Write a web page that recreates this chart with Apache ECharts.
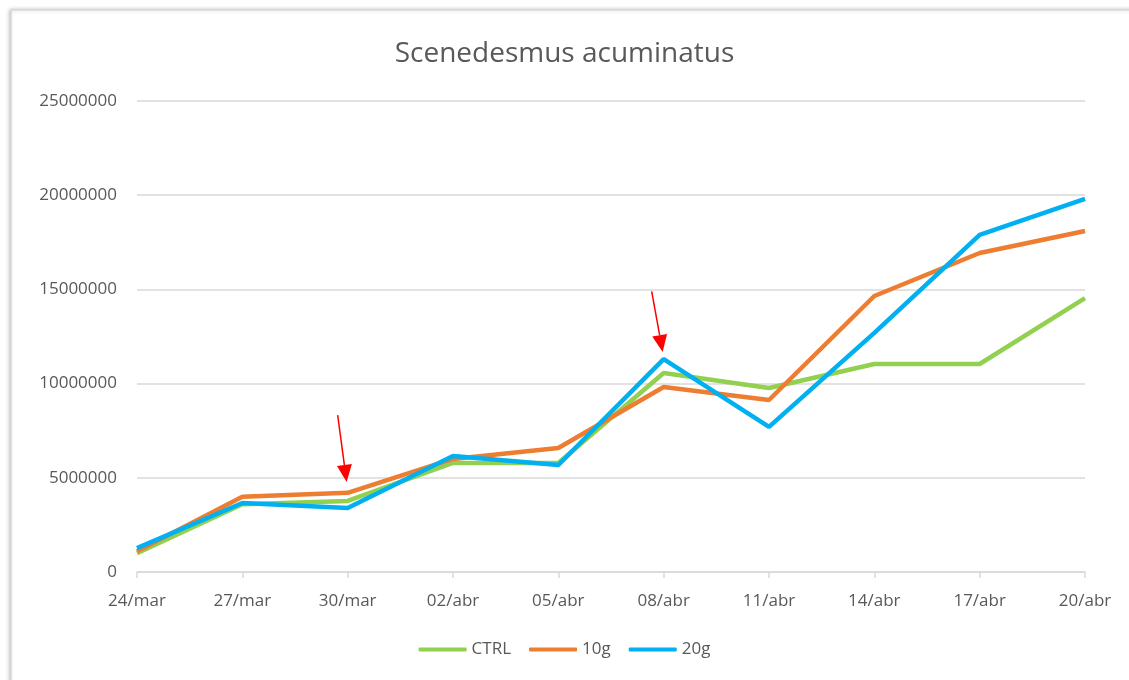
<!DOCTYPE html>
<html>
<head>
<meta charset="utf-8">
<script src="https://cdn.jsdelivr.net/npm/echarts@6/dist/echarts.min.js"></script>
<style>
  html, body { margin: 0; padding: 0; background: #fff; }
  #main { width: 1129px; height: 680px; }
</style>
</head>
<body>
<div id="main"></div>
<script>
// fechas de muestreo
var dates = ['24/mar', '27/mar', '30/mar', '02/abr', '05/abr', '08/abr', '11/abr', '14/abr', '17/abr', '20/abr'];

// células/mL
var ctrl = [1000000, 3600000, 3770000, 5790000, 5790000, 10560000, 9770000, 11040000, 11040000, 14540000];
var g10  = [1100000, 4000000, 4200000, 6000000, 6580000, 9820000, 9130000, 14650000, 16930000, 18100000];
var g20  = [1270000, 3660000, 3400000, 6160000, 5680000, 11300000, 7700000, 12690000, 17890000, 19800000];

var yTicks = [0, 5000000, 10000000, 15000000, 20000000, 25000000];

// flechas rojas (fecha, punta, cola)
var arrowDates = ['30/mar', '08/abr'];
var arrowTip   = [4780000, 11680000];
var arrowTail  = [8330000, 14900000];

var myChart = echarts.init(document.getElementById('main'));
var font = '"Open Sans", "Liberation Sans", sans-serif';

var option = {
    backgroundColor: '#fff',
    animation: false,
    title: {
        text: 'Scenedesmus acuminatus',
        left: 'center',
        top: 35,
        textStyle: {
            color: '#595959',
            fontSize: 28,
            fontWeight: 'normal',
            fontFamily: font
        }
    },
    legend: {
        bottom: 17,
        left: 'center',
        itemWidth: 48,
        itemHeight: 4,
        itemGap: 18,
        icon: 'roundRect',
        textStyle: { color: '#595959', fontSize: 17, fontFamily: font },
        data: ['CTRL', '10g', '20g']
    },
    grid: {
        left: 137,
        right: 44,
        top: 101,
        bottom: 108
    },
    xAxis: {
        type: 'category',
        boundaryGap: false,
        data: dates,
        axisLine: { lineStyle: { color: '#d9d9d9', width: 1.5 } },
        axisTick: { show: true, length: 6, lineStyle: { color: '#d9d9d9', width: 1.5 } },
        axisLabel: { color: '#595959', fontSize: 17, fontFamily: font, margin: 21 }
    },
    yAxis: {
        type: 'value',
        min: yTicks[0],
        max: yTicks[yTicks.length - 1],
        interval: 5000000,
        axisLine: { show: false },
        axisTick: { show: false },
        axisLabel: {
            color: '#595959', fontSize: 17, fontFamily: font, margin: 20,
            formatter: function (v) { return String(v); }
        },
        splitLine: { lineStyle: { color: '#d9d9d9', width: 1.5 } }
    },
    series: [
        {
            name: 'CTRL',
            type: 'line',
            data: ctrl,
            symbol: 'none',
            color: '#92D050',
            lineStyle: { width: 4.5, color: '#92D050' }
        },
        {
            name: '10g',
            type: 'line',
            data: g10,
            symbol: 'none',
            color: '#ED7D31',
            lineStyle: { width: 4.5, color: '#ED7D31' }
        },
        {
            name: '20g',
            type: 'line',
            data: g20,
            symbol: 'none',
            color: '#00B0F0',
            lineStyle: { width: 4.5, color: '#00B0F0' }
        }
    ]
};
myChart.setOption(option);

// marco con sombra y flechas
function buildGraphics() {
    var els = [{
        type: 'rect',
        z: -10,
        silent: true,
        shape: { x: 11, y: 10, width: 1140, height: 700 },
        style: {
            fill: '#fff',
            stroke: '#d0d0d0',
            lineWidth: 1,
            shadowBlur: 4,
            shadowColor: 'rgba(0,0,0,0.25)',
            shadowOffsetX: -1,
            shadowOffsetY: 0
        }
    }];
    var tailShift = [-10, -12];
    for (var i = 0; i < arrowDates.length; i++) {
        var tip = myChart.convertToPixel({ seriesIndex: 0 }, [arrowDates[i], arrowTip[i]]);
        var tail = myChart.convertToPixel({ seriesIndex: 0 }, [arrowDates[i], arrowTail[i]]);
        tail[0] += tailShift[i];
        tip[0] -= 1;
        var dx = tip[0] - tail[0], dy = tip[1] - tail[1];
        var len = Math.sqrt(dx * dx + dy * dy);
        var ux = dx / len, uy = dy / len;
        var headLen = 17, headHalf = 7.5;
        var bx = tip[0] - ux * headLen, by = tip[1] - uy * headLen;
        els.push({
            type: 'line',
            silent: true,
            z: 100,
            shape: { x1: tail[0], y1: tail[1], x2: bx, y2: by },
            style: { stroke: '#ff0000', lineWidth: 1.5 }
        });
        els.push({
            type: 'polygon',
            silent: true,
            z: 100,
            shape: {
                points: [
                    [tip[0], tip[1]],
                    [bx - uy * headHalf, by + ux * headHalf],
                    [bx + uy * headHalf, by - ux * headHalf]
                ]
            },
            style: { fill: '#ff0000' }
        });
    }
    myChart.setOption({ graphic: els });
}
buildGraphics();

window.addEventListener('resize', function () {
    myChart.resize();
    buildGraphics();
});
</script>
</body>
</html>
